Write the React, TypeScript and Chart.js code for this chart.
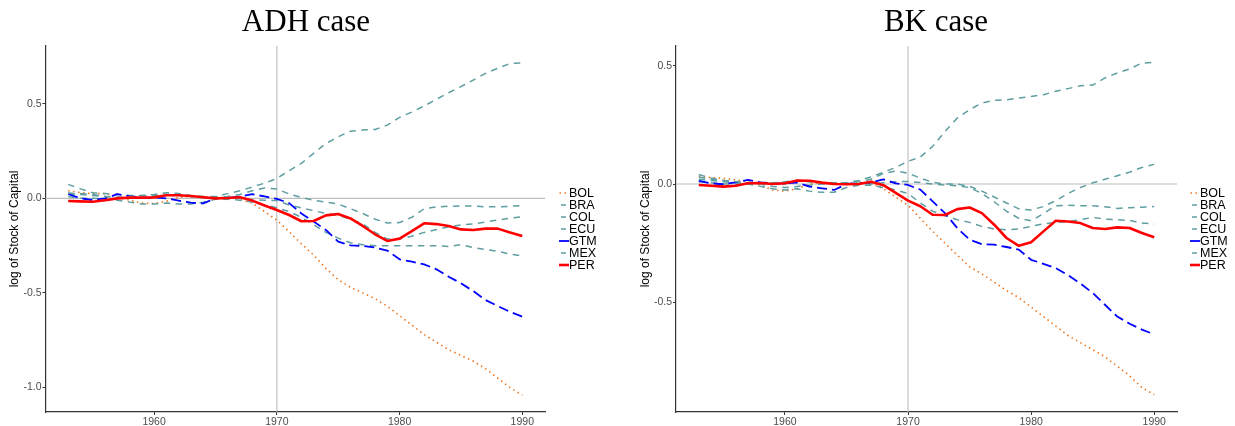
import React, { useEffect, useRef } from 'react';
import { Chart, registerables } from 'chart.js';

Chart.register(...registerables);

// Years covered by the capital-stock series
const years = [
  1953, 1954, 1955, 1956, 1957, 1958, 1959, 1960, 1961, 1962, 1963, 1964, 1965,
  1966, 1967, 1968, 1969, 1970, 1971, 1972, 1973, 1974, 1975, 1976, 1977, 1978,
  1979, 1980, 1981, 1982, 1983, 1984, 1985, 1986, 1987, 1988, 1989, 1990,
];

const countries = ['BOL', 'BRA', 'COL', 'ECU', 'GTM', 'MEX', 'PER'];

const xTicks = [1960, 1970, 1980, 1990];
const adhYTicks = [-1, -0.5, 0, 0.5];
const bkYTicks = [-0.5, 0, 0.5];

// ADH case: log of stock of capital
const adhBOL = [0.04, 0.03, 0.025, 0.025, 0.01, -0.01, -0.025, -0.028, -0.015, 0.005, 0.01, 0.005, 0.005, 0.005, -0.005, -0.025, -0.07,
  -0.115, -0.176, -0.24, -0.3, -0.37, -0.43, -0.47, -0.5, -0.53, -0.57, -0.62, -0.67, -0.72, -0.76, -0.8, -0.83, -0.86, -0.9, -0.95, -1.0, -1.04];
const adhBRA = [0.074, 0.05, 0.03, 0.025, 0.02, 0.015, 0.015, 0.02, 0.03, 0.025, 0.015, 0.01, 0.01, 0.025, 0.04, 0.06, 0.08,
  0.105, 0.146, 0.185, 0.238, 0.29, 0.325, 0.355, 0.361, 0.364, 0.387, 0.428, 0.456, 0.488, 0.523, 0.558, 0.59, 0.625, 0.66, 0.687, 0.713, 0.716];
const adhCOL = [0.02, 0.025, 0.02, 0.01, 0.005, 0.0, 0.005, 0.01, 0.02, 0.02, 0.01, 0.005, 0.005, 0.005, 0.0, -0.008, -0.01,
  -0.012, -0.035, -0.05, -0.065, -0.08, -0.09, -0.11, -0.135, -0.18, -0.215, -0.215, -0.2, -0.18, -0.165, -0.15, -0.14, -0.135, -0.125, -0.115, -0.105, -0.097];
const adhECU = [0.01, 0.0, 0.0, -0.005, -0.01, -0.02, -0.03, -0.03, -0.025, -0.03, -0.03, -0.02, -0.005, -0.005, -0.01, -0.02, -0.035,
  -0.05, -0.07, -0.1, -0.14, -0.18, -0.21, -0.235, -0.245, -0.25, -0.25, -0.25, -0.25, -0.25, -0.25, -0.255, -0.245, -0.26, -0.27, -0.28, -0.295, -0.305];
const adhGTM = [0.023, 0.0, -0.009, 0.0, 0.022, 0.012, 0.004, 0.004, 0.0, -0.012, -0.023, -0.027, 0.0, 0.003, 0.009, 0.022, 0.01,
  -0.003, -0.025, -0.08, -0.123, -0.167, -0.229, -0.248, -0.252, -0.26, -0.276, -0.322, -0.335, -0.349, -0.375, -0.414, -0.449, -0.49, -0.537, -0.569, -0.6, -0.625];
const adhMEX = [0.03, 0.02, 0.015, 0.01, 0.005, 0.01, 0.015, 0.015, 0.02, 0.015, 0.01, 0.005, 0.005, 0.01, 0.02, 0.04, 0.055,
  0.05, 0.023, 0.005, -0.01, -0.02, -0.03, -0.055, -0.08, -0.11, -0.13, -0.128, -0.1, -0.055, -0.045, -0.042, -0.04, -0.04, -0.045, -0.045, -0.042, -0.038];
const adhPER = [-0.014, -0.016, -0.018, -0.01, 0.0, 0.004, 0.004, 0.005, 0.016, 0.016, 0.012, 0.006, 0.0, 0.002, 0.006, -0.012, -0.038,
  -0.062, -0.088, -0.121, -0.12, -0.09, -0.083, -0.106, -0.146, -0.19, -0.225, -0.213, -0.173, -0.132, -0.136, -0.146, -0.164, -0.167, -0.16, -0.16, -0.18, -0.199];

// BK case: log of stock of capital
const bkBOL = [0.034, 0.027, 0.024, 0.018, 0.01, -0.005, -0.025, -0.03, -0.02, 0.0, 0.005, 0.005, 0.005, 0.005, 0.005, -0.02, -0.055,
  -0.09, -0.145, -0.2, -0.25, -0.3, -0.35, -0.38, -0.415, -0.45, -0.48, -0.52, -0.56, -0.6, -0.64, -0.67, -0.7, -0.73, -0.77, -0.81, -0.86, -0.89];
const bkBRA = [0.04, 0.025, 0.015, 0.01, 0.005, 0.005, 0.0, 0.0, 0.015, 0.01, 0.005, 0.005, 0.005, 0.015, 0.03, 0.05, 0.07,
  0.096, 0.114, 0.159, 0.222, 0.279, 0.314, 0.342, 0.354, 0.356, 0.363, 0.37, 0.377, 0.392, 0.403, 0.415, 0.418, 0.448, 0.469, 0.486, 0.511, 0.514];
const bkCOL = [0.02, 0.015, 0.01, 0.005, 0.0, 0.0, -0.01, -0.015, -0.01, -0.005, 0.0, 0.0, 0.0, 0.0, 0.0, 0.005, 0.01,
  0.011, 0.006, 0.0, -0.004, -0.008, -0.015, -0.04, -0.075, -0.115, -0.145, -0.155, -0.125, -0.092, -0.09, -0.092, -0.092, -0.096, -0.103, -0.1, -0.098, -0.095];
const bkECU = [0.01, 0.005, 0.0, 0.0, 0.0, -0.01, -0.02, -0.025, -0.02, -0.03, -0.035, -0.035, -0.015, -0.005, -0.005, -0.015, -0.025,
  -0.04, -0.08, -0.115, -0.134, -0.151, -0.162, -0.179, -0.19, -0.193, -0.19, -0.179, -0.168, -0.162, -0.158, -0.151, -0.141, -0.148, -0.151, -0.154, -0.165, -0.169];
const bkGTM = [0.013, 0.003, -0.001, 0.007, 0.018, 0.007, 0.003, 0.003, 0.006, -0.011, -0.018, -0.025, 0.0, 0.003, 0.006, 0.02, 0.003,
  -0.004, -0.024, -0.073, -0.123, -0.186, -0.235, -0.254, -0.256, -0.266, -0.277, -0.32, -0.337, -0.355, -0.385, -0.42, -0.46, -0.51, -0.56, -0.59, -0.615, -0.635];
const bkMEX = [0.03, 0.02, 0.015, 0.01, 0.005, 0.005, 0.005, 0.01, 0.015, 0.01, 0.005, 0.005, 0.005, 0.01, 0.02, 0.045, 0.055,
  0.046, 0.025, 0.007, 0.0, 0.0, -0.01, -0.03, -0.055, -0.08, -0.105, -0.11, -0.095, -0.07, -0.04, -0.015, 0.005, 0.02, 0.035, 0.05, 0.07, 0.083];
const bkPER = [-0.004, -0.007, -0.011, -0.007, 0.003, 0.004, 0.0, 0.003, 0.015, 0.014, 0.006, 0.0, -0.001, 0.0, 0.01, -0.005, -0.037,
  -0.07, -0.094, -0.13, -0.131, -0.106, -0.099, -0.123, -0.172, -0.228, -0.261, -0.246, -0.2, -0.155, -0.158, -0.165, -0.186, -0.19, -0.183, -0.186, -0.207, -0.225];

const adhSeries = [adhBOL, adhBRA, adhCOL, adhECU, adhGTM, adhMEX, adhPER];
const bkSeries = [bkBOL, bkBRA, bkCOL, bkECU, bkGTM, bkMEX, bkPER];

const SANS = '"Liberation Sans", Arial, Helvetica, sans-serif';
const SERIF = '"Liberation Serif", "Times New Roman", serif';

type LineStyle = { color: string; width: number; dash: number[]; keyFrom: number; keyTo: number };

const TEAL: LineStyle = { color: '#5F9EA0', width: 1.5, dash: [6.5, 5.5], keyFrom: 2, keyTo: 7 };
const styles: Record<string, LineStyle> = {
  BOL: { color: '#EE7621', width: 1.6, dash: [1.5, 3.5], keyFrom: 0.5, keyTo: 10 },
  BRA: TEAL,
  COL: TEAL,
  ECU: TEAL,
  GTM: { color: '#0000FF', width: 1.8, dash: [10, 5], keyFrom: 0, keyTo: 10 },
  MEX: TEAL,
  PER: { color: '#FF0000', width: 2.6, dash: [], keyFrom: 0, keyTo: 10 },
};

type PanelProps = {
  title: string;
  titleX: number;
  series: number[][];
  yMin: number;
  yMax: number;
  yTicks: number[];
  width: number;
  padLeft: number;
  padRight: number;
  axisWidth: number;
  legendKeyX: number;
};

function Panel(p: PanelProps) {
  const ref = useRef<HTMLCanvasElement | null>(null);

  useEffect(() => {
    const canvas = ref.current;
    if (!canvas) return;

    const datasets = countries.map((name, i) => {
      const st = styles[name];
      return {
        label: name,
        data: years.map((yr, k) => ({ x: yr, y: p.series[i][k] })),
        borderColor: st.color,
        backgroundColor: st.color,
        borderWidth: st.width,
        borderDash: st.dash,
        borderCapStyle: 'butt' as const,
        borderJoinStyle: 'round' as const,
        pointRadius: 0,
        tension: 0,
        fill: false,
        order: countries.length - 1 - i,
      };
    });

    const refLines = {
      id: 'refLines',
      beforeDatasetsDraw(chart: any) {
        const { ctx, chartArea, scales } = chart;
        const x0 = scales.x.getPixelForValue(1970);
        const y0 = scales.y.getPixelForValue(0);
        ctx.save();
        ctx.strokeStyle = '#BEBEBE';
        ctx.lineWidth = 1.1;
        ctx.beginPath();
        ctx.moveTo(chartArea.left, y0);
        ctx.lineTo(chartArea.right, y0);
        ctx.moveTo(x0, chartArea.top);
        ctx.lineTo(x0, chartArea.bottom);
        ctx.stroke();
        ctx.restore();
      },
    };

    const decorations = {
      id: 'decorations',
      afterDraw(chart: any) {
        const { ctx, chartArea } = chart;
        ctx.save();
        // panel title
        ctx.fillStyle = '#000';
        ctx.font = `31px ${SERIF}`;
        ctx.textAlign = 'center';
        ctx.textBaseline = 'alphabetic';
        ctx.fillText(p.title, p.titleX, 31);

        // legend
        const yc = (chartArea.top + chartArea.bottom) / 2;
        ctx.font = `12.5px ${SANS}`;
        ctx.textAlign = 'left';
        ctx.textBaseline = 'middle';
        countries.forEach((name, i) => {
          const st = styles[name];
          const y = yc + (i - 3) * 12;
          ctx.save();
          ctx.strokeStyle = st.color;
          ctx.lineWidth = st.width;
          ctx.lineCap = 'butt';
          ctx.setLineDash(name === 'BOL' ? st.dash : []);
          ctx.beginPath();
          ctx.moveTo(p.legendKeyX + st.keyFrom, y);
          ctx.lineTo(p.legendKeyX + st.keyTo, y);
          ctx.stroke();
          ctx.restore();
          ctx.fillStyle = '#000';
          ctx.fillText(name, p.legendKeyX + 10, y + 0.5);
        });
        ctx.restore();
      },
    };

    const chart = new Chart(canvas, {
      type: 'line',
      data: { datasets },
      options: {
        responsive: false,
        animation: false,
        devicePixelRatio: 1,
        layout: { padding: { left: p.padLeft, right: p.padRight, top: 46, bottom: 0 } },
        plugins: {
          legend: { display: false },
          tooltip: { enabled: false },
          title: { display: false },
        },
        scales: {
          x: {
            type: 'linear',
            min: 1951.15,
            max: 1991.85,
            afterBuildTicks: (s: any) => {
              s.ticks = xTicks.map((v) => ({ value: v }));
            },
            afterFit: (s: any) => {
              s.height = 14;
            },
            ticks: {
              color: '#4D4D4D',
              font: { family: SANS, size: 10.5 },
              padding: 1,
              maxRotation: 0,
              autoSkip: false,
              callback: (v: any) => String(v),
            },
            grid: { display: true, drawOnChartArea: false, drawTicks: true, tickLength: 3, color: '#333333', lineWidth: 1 },
            border: { display: true, color: '#333333', width: 1.2 },
          },
          y: {
            type: 'linear',
            min: p.yMin,
            max: p.yMax,
            afterBuildTicks: (s: any) => {
              s.ticks = p.yTicks.map((v) => ({ value: v }));
            },
            afterFit: (s: any) => {
              s.width = p.axisWidth;
            },
            ticks: {
              color: '#4D4D4D',
              font: { family: SANS, size: 10.5 },
              padding: 1,
              autoSkip: false,
              callback: (v: any) => Number(v).toFixed(1),
            },
            grid: { display: true, drawOnChartArea: false, drawTicks: true, tickLength: 3, color: '#333333', lineWidth: 1 },
            border: { display: true, color: '#333333', width: 1.2 },
            title: {
              display: true,
              text: 'log of Stock of Capital',
              color: '#000',
              font: { family: SANS, size: 12 },
              padding: 0,
            },
          },
        },
      },
      plugins: [refLines, decorations],
    } as any);

    return () => chart.destroy();
  }, []);

  return <canvas ref={ref} width={p.width} height={426} style={{ display: 'block', width: p.width, height: 426 }} />;
}

export default function App() {
  return (
    <div style={{ position: 'absolute', left: 0, top: 0, width: 1235, height: 426, display: 'flex', background: '#fff' }}>
      <Panel
        title="ADH case"
        titleX={306}
        series={adhSeries}
        yMin={-1.129}
        yMax={0.805}
        yTicks={adhYTicks}
        width={617}
        padLeft={7.8}
        padRight={72}
        axisWidth={37.7}
        legendKeyX={559}
      />
      <Panel
        title="BK case"
        titleX={319}
        series={bkSeries}
        yMin={-0.963}
        yMax={0.583}
        yTicks={bkYTicks}
        width={618}
        padLeft={21.4}
        padRight={58}
        axisWidth={37.6}
        legendKeyX={573}
      />
    </div>
  );
}
